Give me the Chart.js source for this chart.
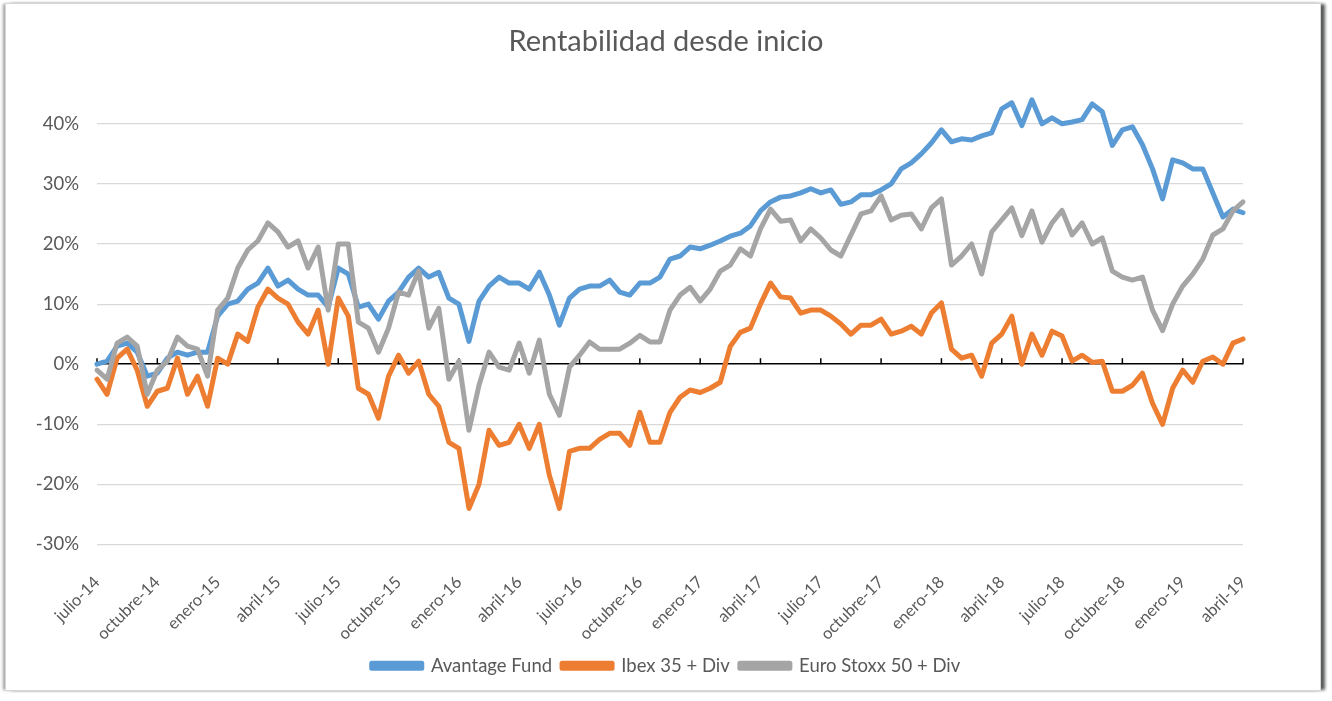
<!DOCTYPE html>
<html>
<head>
<meta charset="utf-8">
<script src="https://cdn.jsdelivr.net/npm/chart.js@4.4.0/dist/chart.umd.min.js"></script>
<style>
  html, body { margin: 0; padding: 0; background: #ffffff; }
  #wrap { position: relative; width: 1332px; height: 701px; overflow: hidden; }
  #frame { position: absolute; left: 5px; top: 3px; width: 1314px; height: 686px;
           border: 1px solid #d6d6d6; box-shadow: 5px 0 3px -1px #5a5a5a, -3px 0 3px -1px #a0a0a0;
           pointer-events: none; }
  canvas { position: absolute; left: 0; top: 0; }
</style>
</head>
<body>
<div id="wrap">
  <canvas id="c" width="1332" height="701"></canvas>
  <div id="frame"></div>
</div>
<script>
const tickLabels = ['julio-14','octubre-14','enero-15','abril-15','julio-15','octubre-15','enero-16','abril-16','julio-16','octubre-16','enero-17','abril-17','julio-17','octubre-17','enero-18','abril-18','julio-18','octubre-18','enero-19','abril-19'];
const samplesPerTick = 6; // two samples per month, ticks every quarter

const avantage = [0,0.5,3,3.5,2,-2,-1.5,1,2,1.5,2,2,8,10,10.5,12.5,13.5,16,13,14,12.5,11.5,11.5,9.5,16,15,9.5,10,7.5,10.5,12,14.5,16,14.5,15.3,11,10,3.8,10.5,13,14.5,13.5,13.5,12.5,15.3,11.5,6.5,11,12.5,13,13,14,12,11.5,13.5,13.5,14.5,17.5,18,19.5,19.2,19.8,20.5,21.3,21.8,23,25.5,27,27.8,28,28.5,29.2,28.5,29,26.6,27,28.2,28.2,29,30,32.5,33.5,35,36.8,39,37,37.5,37.3,38,38.5,42.5,43.5,39.7,44,40,41,40,40.3,40.7,43.3,42,36.4,39,39.5,36.5,32.5,27.5,34,33.5,32.5,32.5,28.5,24.5,25.8,25.2];
const ibex = [-2.5,-5,1,2.5,-1,-7,-4.5,-4,1,-5,-2,-7,1,0,5,3.8,9.5,12.5,11,10,7,5,9,0,11,8,-4,-5,-9,-2,1.5,-1.5,0.5,-5,-7,-13,-14,-24,-20,-11,-13.5,-13,-10,-14,-10,-18.5,-24,-14.5,-14,-14,-12.5,-11.5,-11.5,-13.5,-8,-13,-13,-8,-5.5,-4.3,-4.7,-4,-3,3,5.3,6,10,13.5,11.2,11,8.5,9,9,8,6.7,5,6.5,6.5,7.5,5,5.5,6.3,5,8.5,10.2,2.5,1,1.5,-2,3.5,5,8,0,5,1.5,5.5,4.7,0.5,1.5,0.3,0.5,-4.5,-4.5,-3.5,-1.5,-6.5,-10,-4,-1,-3,0.5,1.2,0,3.5,4.2];
const euroStoxx = [-1,-2.5,3.5,4.5,3,-5,-1,0.5,4.5,3,2.5,-2,9,11,16,19,20.5,23.5,22,19.5,20.5,16,19.5,9,20,20,7,6,2,6,12,11.5,15.5,6,9.3,-2.5,0.5,-11,-3.5,2,-0.5,-1,3.5,-1.5,4,-5,-8.5,-0.5,1.5,3.7,2.5,2.5,2.5,3.5,4.8,3.7,3.7,9,11.5,12.8,10.5,12.5,15.5,16.5,19.2,18,22.5,25.8,23.8,24,20.5,22.5,21,19,18,21.5,25,25.5,28,24,24.8,25,22.5,26,27.5,16.5,18,20,15,22,24,26,21.4,25.5,20.3,23.5,25.6,21.5,23.5,20,21,15.5,14.5,14,14.5,9,5.6,10,13,15,17.5,21.5,22.5,25.5,27];

const labels = avantage.map((_, i) => (i % samplesPerTick === 0 ? tickLabels[i / samplesPerTick] : ''));

const FONT = 'Lato, "Open Sans", sans-serif';
const TXT = '#595959';

const zeroTicks = {
  id: 'zeroTicks',
  beforeDatasetsDraw(chart) {
    const x = chart.scales.x, y = chart.scales.y, ctx = chart.ctx;
    const y0 = y.getPixelForValue(0);
    ctx.save();
    ctx.strokeStyle = '#000000';
    ctx.lineWidth = 1.5;
    labels.forEach((l, i) => {
      if (!l) return;
      const px = x.getPixelForValue(i);
      ctx.beginPath();
      ctx.moveTo(px, y0);
      ctx.lineTo(px, y0 - 6);
      ctx.stroke();
    });
    ctx.restore();
  }
};

new Chart(document.getElementById('c'), {
  type: 'line',
  data: {
    labels: labels,
    datasets: [
      { label: 'Avantage Fund', data: avantage, borderColor: '#5B9BD5', backgroundColor: '#5B9BD5', order: 2 },
      { label: 'Ibex 35 + Div', data: ibex, borderColor: '#ED7D31', backgroundColor: '#ED7D31', order: 1 },
      { label: 'Euro Stoxx 50 + Div', data: euroStoxx, borderColor: '#A5A5A5', backgroundColor: '#A5A5A5', order: 0 }
    ]
  },
  options: {
    responsive: false,
    animation: false,
    devicePixelRatio: 1,
    datasets: { line: { borderWidth: 5, pointRadius: 0, tension: 0, borderJoinStyle: 'round', borderCapStyle: 'round', clip: false } },
    layout: { padding: { top: 0, left: 0, right: 0, bottom: 16 } },
    plugins: {
      title: {
        display: true,
        text: 'Rentabilidad desde inicio',
        color: TXT,
        font: { family: FONT, size: 29, weight: 'normal' },
        padding: { top: 24, bottom: 65 }
      },
      legend: {
        position: 'bottom',
        labels: {
          color: TXT,
          font: { family: FONT, size: 18.5 },
          boxWidth: 50,
          boxHeight: 5,
          padding: 10,
          sort: (a, b) => a.datasetIndex - b.datasetIndex
        }
      },
      tooltip: { enabled: false }
    },
    scales: {
      x: {
        type: 'category',
        offset: false,
        grid: { display: false },
        border: { display: false },
        afterFit(scale) { scale.height = 102; },
        ticks: {
          autoSkip: false,
          maxRotation: 45,
          minRotation: 45,
          padding: 20,
          color: TXT,
          font: { family: FONT, size: 16.5 },
          callback: (v, i) => labels[i]
        }
      },
      y: {
        min: -30,
        max: 40,
        afterFit(scale) { scale.width = 97; },
        border: { display: false },
        grid: {
          drawTicks: false,
          color: (ctx) => (ctx.tick && ctx.tick.value === 0 ? '#000000' : '#d9d9d9'),
          lineWidth: (ctx) => (ctx.tick && ctx.tick.value === 0 ? 1.6 : 1.2)
        },
        ticks: {
          stepSize: 10,
          padding: 18,
          color: TXT,
          font: { family: FONT, size: 18.5 },
          callback: (v) => v + '%'
        }
      },
      yRight: {
        position: 'right',
        display: true,
        afterFit(scale) { scale.width = 89; },
        grid: { display: false, drawTicks: false },
        border: { display: false },
        ticks: { display: false }
      }
    }
  },
  plugins: [zeroTicks]
});
</script>
</body>
</html>
